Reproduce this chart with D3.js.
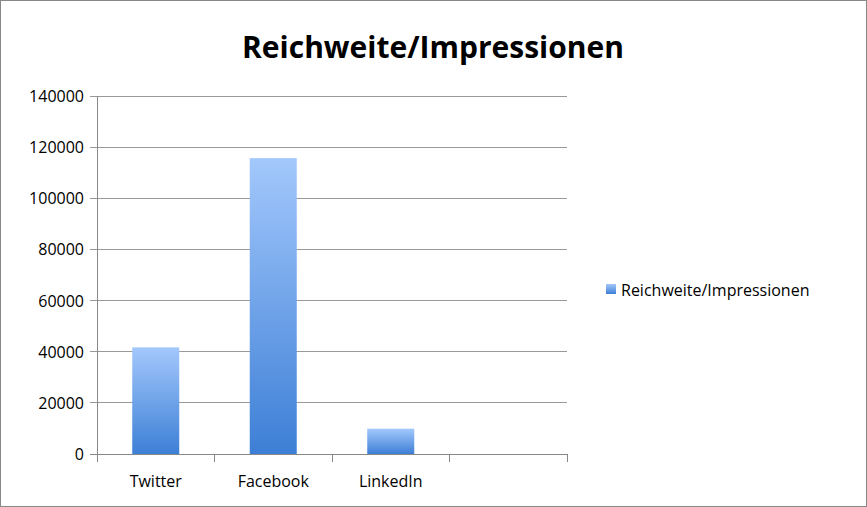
<!DOCTYPE html>
<html><head><meta charset="utf-8">
<script src="https://cdn.jsdelivr.net/npm/d3@7"></script>
<style>body{margin:0;background:#fff}svg{display:block}</style>
</head><body>
<svg id="c" width="867" height="507"></svg>
<script>
const categories = ["Twitter", "Facebook", "LinkedIn", ""];
const values = [41700, 115700, 9900, null];
const yTicks = [0, 20000, 40000, 60000, 80000, 100000, 120000, 140000];
const seriesName = "Reichweite/Impressionen";

const svg = d3.select("#c");
const font = "'Open Sans', sans-serif";
svg.append("rect").attr("x",0.5).attr("y",0.5).attr("width",866).attr("height",506)
  .attr("fill","#fff").attr("stroke","#888");
const defs = svg.append("defs");
const g = defs.append("linearGradient").attr("id","gr").attr("x1",0).attr("y1",0).attr("x2",0).attr("y2",1);
g.append("stop").attr("offset","0%").attr("stop-color","#a3c8fc");
g.append("stop").attr("offset","100%").attr("stop-color","#3d7fd6");

const L=97,R=567,T=96,B=454;
const x = d3.scaleBand().domain(categories.map((c,i)=>i)).range([L,R]).paddingInner(0).paddingOuter(0);
const y = d3.scaleLinear().domain([0,140000]).range([B,T]);

svg.append("g").selectAll("line").data(yTicks).join("line")
  .attr("x1",L-7).attr("x2",R).attr("y1",d=>y(d)).attr("y2",d=>y(d))
  .attr("stroke",d=>d===0?"#888":"#999").attr("stroke-width",1).attr("shape-rendering","crispEdges");
svg.append("line").attr("x1",L).attr("x2",L).attr("y1",T).attr("y2",B).attr("stroke","#888").attr("shape-rendering","crispEdges");
svg.append("g").selectAll("text").data(yTicks).join("text")
  .attr("x",L-13).attr("y",d=>y(d)+6).attr("text-anchor","end")
  .attr("font-family",font).attr("font-size",16).attr("fill","#000").text(d=>d);

const seps = d3.range(categories.length+1).map(i=>L+i*x.bandwidth());
svg.append("g").selectAll("line").data(seps).join("line")
  .attr("x1",d=>d).attr("x2",d=>d).attr("y1",B).attr("y2",B+8)
  .attr("stroke","#888").attr("shape-rendering","crispEdges");
svg.append("g").selectAll("text").data(categories).join("text")
  .attr("x",(d,i)=>x(i)+x.bandwidth()/2).attr("y",B+33).attr("text-anchor","middle")
  .attr("font-family",font).attr("font-size",16).text(d=>d);

const bw = 47;
svg.append("g").selectAll("rect").data(values.map((v,i)=>({v,i})).filter(d=>d.v!=null)).join("rect")
  .attr("x",d=>x(d.i)+x.bandwidth()/2-bw/2).attr("width",bw)
  .attr("y",d=>y(d.v)).attr("height",d=>B-y(d.v)).attr("fill","url(#gr)");

svg.append("text").attr("x",433).attr("y",58).attr("text-anchor","middle")
  .attr("font-family",font).attr("font-weight","bold").attr("font-size",30).text(seriesName);

svg.append("rect").attr("x",606).attr("y",284).attr("width",10).attr("height",10).attr("fill","url(#gr)");
svg.append("text").attr("x",621).attr("y",296).attr("font-family",font).attr("font-size",16).text(seriesName);
</script>
</body></html>
